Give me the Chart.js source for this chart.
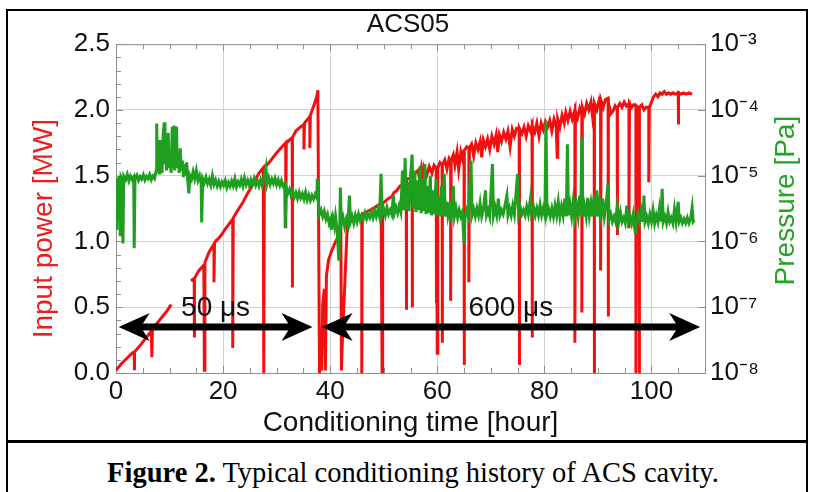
<!DOCTYPE html>
<html>
<head>
<meta charset="utf-8">
<script src="https://cdn.jsdelivr.net/npm/chart.js@4.4.1/dist/chart.umd.min.js"></script>
<style>
html,body{margin:0;padding:0;background:#fff;width:816px;height:492px;overflow:hidden;}
#frame{position:absolute;left:6px;top:9px;width:802px;height:520px;border:2px solid #000;box-sizing:border-box;}
#sep{position:absolute;left:6px;top:440px;width:802px;height:3px;background:#000;}
#wrap{position:absolute;left:0;top:0;width:816px;height:441px;}
#caption{position:absolute;left:5px;width:816px;top:457px;text-align:center;font-family:"Liberation Serif","Times New Roman",serif;font-size:28.5px;line-height:32px;color:#000;white-space:nowrap;}
</style>
</head>
<body>
<div id="frame"></div>
<div id="sep"></div>
<div id="wrap"><canvas id="c" width="816" height="441"></canvas></div>
<div id="caption"><b>Figure 2.</b> Typical conditioning history of ACS cavity.</div>
<script>
// ---------- data ----------
const chartTitle = 'ACS05';
const xTitle = 'Conditioning time [hour]';
const yTitle = 'Input power [MW]';
const y1Title = 'Pressure [Pa]';
const hourTicks = [0, 20, 40, 60, 80, 100];
const powerTicks = [0, 0.5, 1.0, 1.5, 2.0, 2.5];
const pressureTicks = [1e-8, 1e-7, 1e-6, 1e-5, 1e-4, 1e-3];
const pressureTickLabels = ['10\u207B\u2078', '10\u207B\u2077', '10\u207B\u2076', '10\u207B\u2075', '10\u207B\u2074', '10\u207B\u00B3'];

// input power [hour, MW]
const powerData = [
[0,0.02],[1,0.07],[2,0.11],[3,0.15],[3.4,0.16],[3.4,0.02],[3.5,0.16],[4.5,0.21],[5.5,0.26],[6.6,0.32],[6.7,0.12],[6.8,0.33],[7.5,0.37],[8.5,0.42],[9.5,0.47],[10.3,0.52],[12,null],
[14,0.70],[14.6,0.72],[14.6,0.27],[14.7,0.72],[15.5,0.78],[16.4,0.82],[16.5,0.02],[16.6,0.84],[17.4,0.92],[18.3,0.98],[18.3,0.69],[18.4,0.99],[19.5,1.04],[20.5,1.1],[21.8,1.17],[21.8,0.19],[21.9,1.18],[22.8,1.24],[23.6,1.29],[24.5,1.36],[25.5,1.43],[26.7,1.52],[27.5,1.56],[27.6,0.0],[27.7,1.56],[28.8,1.61],[29.9,1.67],[30.8,1.71],[31.7,1.75],[31.7,1.1],[31.8,1.75],[32.9,1.79],[32.9,0.65],[33,1.79],[33.6,1.84],[34.4,1.87],[35.1,1.89],[35.1,1.7],[35.2,1.9],[36,1.94],[36.2,1.95],[36.2,1.71],[36.3,1.96],[37,2.04],[37.5,2.1],[37.7,2.15],
[38,0.0],[38.2,0.3],[38.4,0.02],[38.6,0.52],[38.9,0.64],[39.1,0.02],[39.3,0.74],[39.7,0.86],[40.2,0.92],[40.8,0.98],[41.4,1.03],[42,1.07],[42.1,0.02],[42.3,0.27],[43.2,1.13],[44.4,1.18],[45.9,1.2],[45.9,0.0],[46,1.21],[47,1.23],[48,1.25],[49.5,1.29],[49.7,0.0],
[49.8,1.29],[50.4,1.31],[51,1.33],[51.5,1.34],[51.9,1.37],[52.5,1.39],[53,1.42],[53.5,1.43],[54,1.45],[54.2,1.46],[54.2,0.48],[54.3,1.47],[54.8,1.48],[55.3,1.5],[55.3,0.5],[55.4,1.5],[55.9,1.52],[56.4,1.54],[56.7,1.47],[57,1.55],[57.3,1.45],[57.5,1.56],[58,1.5],[58.5,1.57],[59,1.52],[59.4,1.58],[59.8,1.56],[59.8,0.53],[59.9,1.55],[60,0.15],[60.1,1.56],[60.5,1.6],[60.9,1.58],[60.9,0.23],[61,1.58],[61.4,1.62],[61.8,1.55],[62.2,1.63],[62.5,1.61],[62.5,0.55],[62.6,1.62],[63,1.66],[63.3,1.58],[63.7,1.68],[64,1.55],[64.4,1.68],[64.7,1.63],[65,1.7],[65,0.06],[65.1,1.69],[65.5,1.72],[65.9,1.71],[65.9,0.69],[66,1.71],[66.4,1.74],[66.8,1.65],[67.2,1.75],[67.6,1.7],[68,1.76],[68.3,1.64],[68.6,1.77],[69,1.72],[69.4,1.78],[69.8,1.7],[70.2,1.8],[70.6,1.74],[71,1.81],[71.3,1.68],[71.6,1.81],[72,1.76],[72.4,1.83],[72.8,1.78],[73.2,1.84],[73.6,1.72],[74,1.85],[74.4,1.8],[74.8,1.86],[75.3,1.86],[75.3,0.06],[75.4,1.86],[75.8,1.82],[76.2,1.87],[76.6,1.8],[77,1.88],[77.4,1.84],[77.7,1.88],[77.7,0.27],[77.8,1.88],[78.2,1.83],[78.6,1.9],[79,1.8],[79.4,1.9],[79.8,1.85],[80.2,1.91],[80.6,1.87],[81,1.92],[81.4,1.84],[81.8,1.93],[82.2,1.88],[82.4,1.64],[82.5,1.93],[82.9,1.87],[83.3,1.96],[83.7,1.9],[84,1.98],[84.4,1.92],[84.8,1.99],[85.2,1.93],[85.7,2.0],[85.7,0.23],[85.8,1.99],[86.2,1.94],[86.6,2.01],[87,1.96],[87,0.46],[87.1,2.02],[87.5,1.97],[87.9,2.05],[88.3,2.0],[88.7,2.06],[89,1.95],[89.3,2.05],[89.3,0.0],[89.4,2.05],[89.8,2.0],[90.2,2.07],[90.5,2.02],[90.5,0.78],[90.6,2.07],[91,2.02],[91.4,2.08],[91.9,2.09],[91.9,0.43],[92,2.06],[92.4,1.97],[92.8,1.99],[93.2,2.03],[93.6,2.0],[93.6,1.05],[93.7,2.02],[94.1,2.05],[94.5,2.02],[94.9,2.06],[95.3,2.03],[95.8,2.05],[95.8,1.1],[95.9,2.05],[96.3,2.02],[96.7,2.04],[97.1,2.03],[97.1,0.0],[97.2,2.03],[97.7,2.01],[97.7,0.0],[97.8,2.02],[98.2,2.04],[98.6,2.0],[99,2.02],[99.5,2.02],[99.5,1.45],[99.6,2.02],[100,2.06],[100.4,2.1],[100.8,2.12],[101.2,2.1],[101.6,2.13],[102,2.12],[102.4,2.14],[102.8,2.12],[103.2,2.13],[103.6,2.12],[104,2.13],[104.4,2.12],[105,2.13],[105,1.89],[105.1,2.13],[105.5,2.12],[106,2.13],[106.5,2.12],[107,2.13],[107.6,2.12]
];

// pressure [hour, Pa]
const pressureData = [
[0,9.2e-6],[0.15,1.5e-6],[0.3,9e-6],[0.45,2.2e-6],[0.6,1e-5],[0.8,1.2e-6],[0.95,9.4e-6],[1.15,8.6e-6],[1.3,9.3e-7],[1.45,9.8e-6],[1.8,8.7e-6],[2.1,1.05e-5],[2.4,8.4e-6],[2.7,9.9e-6],[3,8.8e-6],[3.3,9.6e-6],[3.4,7.9e-7],[3.55,9.2e-6],[3.9,1.02e-5],[4.2,8.5e-6],[4.5,9.7e-6],[4.8,8.9e-6],[5.1,1.03e-5],[5.4,8.6e-6],[5.7,9.8e-6],[6,9e-6],[6.3,1.04e-5],[6.6,8.7e-6],[6.9,9.9e-6],[7.2,9.1e-6],
[7.5,1.2e-5],[7.6,6.2e-5],[7.7,1.3e-5],[7.9,2.5e-5],[8.05,1.1e-5],[8.2,3.5e-5],[8.35,1.2e-5],[8.5,2.2e-5],[8.6,1.1e-5],[8.8,4e-5],[9,6.5e-5],[9.15,1.5e-5],[9.3,3e-5],[9.45,1.2e-5],[9.6,2.6e-5],[9.75,4.5e-5],[9.9,1.3e-5],[10.1,2e-5],[10.3,1.1e-5],[10.5,5.5e-5],[10.65,1.4e-5],[10.8,5.8e-5],[10.95,1.2e-5],[11.1,3e-5],[11.3,5.6e-5],[11.45,1.3e-5],[11.6,2.2e-5],[11.8,1.1e-5],[12,2.6e-5],[12.2,1.2e-5],[12.4,1.7e-5],[12.6,9.5e-6],[12.8,1.5e-5],[13,1e-5],[13.2,1.6e-5],[13.4,8.5e-6],[13.6,5.4e-6],[13.8,1e-5],[14.1,8.8e-6],[14.4,1.15e-5],[14.7,9e-6],[15,1.2e-5],[15.3,8.5e-6],[15.6,1e-5],[15.9,7.5e-6],[16,1.95e-6],[16.2,9e-6],[16.5,7.8e-6],[16.8,9.5e-6],[17.1,7.6e-6],[17.4,8.8e-6],[17.7,7.2e-6],[18,1e-5],[18.3,7.4e-6],[18.6,8.6e-6],[18.9,7e-6],[19.2,8.2e-6],[19.5,6.8e-6],[19.8,8e-6],[20.1,7.1e-6],[20.4,8.4e-6],[20.7,6.6e-6],[21,7.9e-6],[21.3,6.9e-6],[21.6,8.3e-6],[21.9,7e-6],[22.2,9e-6],[22.5,6.8e-6],[22.8,8.1e-6],[23.1,7.2e-6],[23.4,8.8e-6],[23.7,7e-6],[24,9.2e-6],[24.3,7.3e-6],[24.6,8.5e-6],[24.9,7.1e-6],[25.2,8.7e-6],[25.5,7.4e-6],[25.8,9e-6],[26.1,7.2e-6],[26.4,8.4e-6],[26.7,7e-6],[27,8.6e-6],[27.3,7.1e-6],[27.6,8.8e-6],[28,1.32e-5],[28.2,7.5e-6],[28.5,9.3e-6],[28.8,7.4e-6],[29.1,8.9e-6],[29.4,7.6e-6],[29.7,9.1e-6],[30,7.3e-6],[30.3,8.6e-6],[30.6,7.1e-6],[30.9,8.4e-6],[31.2,7e-6],[31.5,7.5e-6],[31.6,1.6e-6],[31.8,6.6e-6],[32.1,5.4e-6],[32.4,6.2e-6],[32.7,5e-6],[33,5.8e-6],[33.3,4.7e-6],[33.6,5.5e-6],[33.9,4.5e-6],[34.2,5.6e-6],[34.5,4.6e-6],[34.8,5.3e-6],[35.1,4.4e-6],[35.4,5.6e-6],[35.7,4.3e-6],[36,5.1e-6],[36.3,4.2e-6],[36.6,5e-6],[36.9,4.4e-6],[37.2,5.2e-6],[37.5,4.6e-6],[37.6,9e-6],[37.8,4e-6],
[38,2.6e-6],[38.3,3e-6],[38.6,2.4e-6],[38.9,2.9e-6],[39.2,2.2e-6],[39.5,2.6e-6],[39.8,1.9e-6],[40.1,2.2e-6],[40.2,1.5e-6],[40.5,2.3e-6],[40.8,1.7e-6],[41,2.4e-6],[41.3,1.5e-6],[41.6,5.1e-7],[41.8,1.8e-6],[41.9,6.6e-6],[42.1,1.8e-6],[42.4,2.3e-6],[42.7,1.7e-6],[43,2.2e-6],[43.3,1.8e-6],[43.6,5e-6],[43.8,2e-6],[44.1,2.4e-6],[44.4,1.9e-6],[44.7,2.5e-6],[45,2e-6],[45.3,2.6e-6],[45.6,2.1e-6],[45.9,2.5e-6],[46.2,2.2e-6],[46.5,2.7e-6],[46.8,2.2e-6],[47.1,2.6e-6],[47.4,2.3e-6],[47.7,2.8e-6],[48,2.3e-6],[48.3,2.9e-6],[48.6,2.4e-6],[48.9,3e-6],[49.2,2.4e-6],[49.5,1.07e-5],[49.7,2.6e-6],[50,3.1e-6],[50.3,2.5e-6],[50.6,3.3e-6],[50.9,2.6e-6],[51.2,3e-6],[51.5,2.6e-6],[51.8,5e-6],[52,2.7e-6],[52.3,3.3e-6],[52.6,2.7e-6],[52.9,3.5e-6],[53.2,2.8e-6],[53.5,1.2e-5],[53.7,3e-6],[54,1.86e-5],[54.2,3e-6],[54.5,8e-6],[54.7,2.9e-6],[55,1e-5],[55.3,2.1e-5],[55.5,3.2e-6],[55.8,1.2e-5],[56,2.8e-6],[56.3,8.5e-6],[56.5,3e-6],[56.8,1.4e-5],[57,2.7e-6],[57.3,9e-6],[57.5,2.9e-6],[57.7,1.5e-5],[57.9,2.6e-6],[58.2,7e-6],[58.4,2.7e-6],[58.7,1e-5],[58.9,2.5e-6],[59.2,6e-6],[59.4,2.6e-6],[59.8,9e-6],[60,2.5e-6],[60.3,5e-6],[60.5,2.4e-6],[60.8,7e-6],[61,2.5e-6],[61.3,1.07e-5],[61.5,2.4e-6],[61.8,4e-6],[62,2.5e-6],[62.3,3.4e-6],[62.6,2.4e-6],[63,7e-6],[63.2,2.4e-6],[63.5,3.2e-6],[63.8,2.3e-6],[64.1,3e-6],[64.4,2.4e-6],[64.7,2.8e-6],[65,9.3e-7],[65.2,2.4e-6],[65.5,3e-6],[65.8,2.4e-6],[66.3,1.7e-5],[66.5,2.5e-6],[66.8,3.1e-6],[67.1,2.4e-6],[67.4,3.2e-6],[67.7,2.5e-6],[68,3.8e-6],[68.3,2.4e-6],[68.6,3e-6],[69,6e-6],[69.2,2.5e-6],[69.5,3e-6],[69.8,2.4e-6],[70.3,1.5e-5],[70.5,2.5e-6],[70.8,3.3e-6],[71.1,2.5e-6],[71.4,4.5e-6],[71.7,2.5e-6],[72,3e-6],[72.3,2.6e-6],[72.6,3.4e-6],[73,5e-6],[73.2,2.5e-6],[73.5,3.2e-6],[73.8,2.5e-6],[74.1,3.5e-6],[74.4,2.6e-6],[75,1.07e-5],[75.2,2.6e-6],[75.5,3.3e-6],[75.8,2.6e-6],[76.1,3e-6],[76.4,2.5e-6],[76.7,3.4e-6],[77,2.6e-6],[77.4,4.5e-6],[77.6,2.6e-6],[78,3.3e-6],[78.3,2.5e-6],[78.6,3.2e-6],[78.9,2.5e-6],[79.2,3.6e-6],[79.5,2.5e-6],[79.8,3.2e-6],[80.1,2.5e-6],[80.3,6.8e-5],[80.5,2.6e-6],[80.8,3.1e-6],[81.1,2.4e-6],[81.4,3.2e-6],[81.7,2.4e-6],[82,3.5e-6],[82.3,2.5e-6],[82.6,4e-6],[82.9,2.4e-6],[83.2,3.4e-6],[83.5,2.5e-6],[83.8,4.5e-6],[84.1,2.4e-6],[84.3,3e-5],[84.5,2.5e-6],[84.8,3.6e-6],[85.1,2.4e-6],[85.4,4.2e-6],[85.7,2.4e-6],[86,3.6e-6],[86.3,2.4e-6],[86.6,5e-6],[86.8,2.5e-6],[87,3.8e-5],[87.2,2.4e-6],[87.5,3.4e-6],[87.8,2.4e-6],[88.1,4.6e-6],[88.4,2.5e-6],[88.7,3.8e-6],[89,2.4e-6],[89.3,5e-6],[89.5,2.4e-6],[89.8,6e-6],[90,2.4e-6],[90.3,4e-6],[90.6,2.5e-6],[90.9,4.5e-6],[91.2,2.4e-6],[91.5,3.5e-6],[91.9,7.6e-6],[92.1,2.2e-6],[92.4,2.6e-6],[92.7,2e-6],[93,2.4e-6],[93.3,2e-6],[93.6,3.4e-6],[93.9,2e-6],[94.2,2.8e-6],[94.5,2e-6],[94.8,2.3e-6],[95.1,1.9e-6],[95.4,3.5e-6],[95.7,2e-6],[96,2.4e-6],[96.3,1.9e-6],[96.6,2.6e-6],[97,1.3e-6],[97.2,2e-6],[97.5,2.6e-6],[97.8,2e-6],[98.1,2.9e-6],[98.4,2e-6],[98.6,5e-6],[98.8,2e-6],[99.1,2.4e-6],[99.4,1.9e-6],[99.7,2.6e-6],[100,2e-6],[100.3,3e-6],[100.6,1.9e-6],[100.9,2.5e-6],[101.2,2e-6],[101.5,3.2e-6],[101.8,2e-6],[102,6.3e-6],[102.2,2e-6],[102.5,2.4e-6],[102.8,1.9e-6],[103.1,2.8e-6],[103.4,2e-6],[103.7,2.3e-6],[104,1.9e-6],[104.3,3.1e-6],[104.6,2e-6],[105,4e-6],[105.2,2e-6],[105.5,2.3e-6],[105.8,1.9e-6],[106.1,2.2e-6],[106.4,1.9e-6],[106.7,2.3e-6],[107,1.9e-6],[107.3,2.2e-6],[107.6,3.3e-6],[107.8,2e-6],[108,2.1e-6]
];

// pulse-width annotations: [start hour, end hour, MW level, label]
const pulseArrows = [
  [0.5, 36.7, 0.35, '50 \u03BCs'],
  [38.4, 109.1, 0.35, '600 \u03BCs']
];
const labelLevel = 0.49;

// ---------- chart ----------
const FONT = '"Liberation Sans", Arial, Helvetica, sans-serif';
const AXIS_GRAY = '#8f8f8f';
const GRID_GRAY = '#d2d2d2';
const RED = '#f01010';
const GREEN = '#1f9f1f';

const marksPlugin = {
  id: 'marks',
  beforeDatasetsDraw(chart) {
    const {ctx, chartArea: a} = chart;
    ctx.save();
    ctx.strokeStyle = AXIS_GRAY;
    ctx.lineWidth = 1;
    ctx.beginPath();
    ctx.moveTo(a.left, a.top + 0.5); ctx.lineTo(a.right, a.top + 0.5);
    ctx.stroke();
    const xs = chart.scales.x, ys = chart.scales.y, y1 = chart.scales.y1;
    ctx.beginPath();
    for (let h = 0; h <= 110; h += 5) {
      const px = Math.round(xs.getPixelForValue(h)) + 0.5;
      const len = (h % 20 === 0) ? 7 : 5;
      ctx.moveTo(px, a.bottom); ctx.lineTo(px, a.bottom - len);
      ctx.moveTo(px, a.top); ctx.lineTo(px, a.top + len);
    }
    for (let i = 0; i <= 25; i++) {
      const py = Math.round(ys.getPixelForValue(i / 10)) + 0.5;
      const len = (i % 5 === 0) ? 7 : 5;
      ctx.moveTo(a.left, py); ctx.lineTo(a.left + len, py);
    }
    pressureTicks.forEach(v => {
      const py = Math.round(y1.getPixelForValue(v)) + 0.5;
      ctx.moveTo(a.right, py); ctx.lineTo(a.right - 7, py);
    });
    ctx.stroke();
    ctx.restore();
  },
  afterDatasetsDraw(chart) {
    const {ctx, chartArea: a} = chart;
    const xs = chart.scales.x, ys = chart.scales.y;
    ctx.save();
    pulseArrows.forEach(([h1, h2, mw, label]) => {
      const x1 = xs.getPixelForValue(h1), x2 = xs.getPixelForValue(h2);
      const y = ys.getPixelForValue(mw);
      const L = 31, W = 14, N = 22, T = 7;
      ctx.fillStyle = '#000';
      ctx.fillRect(x1 + N - 1, y - T / 2, (x2 - x1) - 2 * N + 2, T);
      ctx.beginPath();
      ctx.moveTo(x1, y); ctx.lineTo(x1 + L, y - W); ctx.lineTo(x1 + N, y); ctx.lineTo(x1 + L, y + W);
      ctx.closePath(); ctx.fill();
      ctx.beginPath();
      ctx.moveTo(x2, y); ctx.lineTo(x2 - L, y - W); ctx.lineTo(x2 - N, y); ctx.lineTo(x2 - L, y + W);
      ctx.closePath(); ctx.fill();
      ctx.font = '28px ' + FONT;
      ctx.textAlign = 'center';
      ctx.textBaseline = 'middle';
      ctx.fillStyle = '#111';
      ctx.fillText(label, (x1 + x2) / 2, ys.getPixelForValue(labelLevel));
    });
    // vertical axis titles, both reading bottom-to-top
    ctx.font = '28px ' + FONT;
    ctx.textAlign = 'center';
    ctx.textBaseline = 'middle';
    ctx.save();
    ctx.translate(a.left - 72, (a.top + a.bottom) / 2 + 20);
    ctx.rotate(-Math.PI / 2);
    ctx.fillStyle = '#e82020';
    ctx.fillText(yTitle, 0, 0);
    ctx.restore();
    ctx.save();
    ctx.translate(a.right + 81, (a.top + a.bottom) / 2 - 8);
    ctx.rotate(-Math.PI / 2);
    ctx.fillStyle = '#26a326';
    ctx.fillText(y1Title, 0, 0);
    ctx.restore();
    ctx.restore();
  }
};

new Chart(document.getElementById('c'), {
  type: 'line',
  data: {
    datasets: [
      {
        label: 'Pressure',
        data: pressureData.map(([x, y]) => ({x, y})),
        yAxisID: 'y1',
        borderColor: GREEN,
        borderWidth: 3,
        pointRadius: 0,
        tension: 0,
        spanGaps: false
      },
      {
        label: 'Input power',
        data: powerData.map(([x, y]) => ({x, y})),
        yAxisID: 'y',
        borderColor: RED,
        borderWidth: 3,
        pointRadius: 0,
        tension: 0,
        spanGaps: false
      }
    ]
  },
  options: {
    responsive: false,
    animation: false,
    devicePixelRatio: 1,
    layout: {padding: 0},
    plugins: {
      legend: {display: false},
      tooltip: {enabled: false},
      title: {
        display: true, text: chartTitle, color: '#111',
        font: {family: FONT, size: 26, weight: 'normal'},
        padding: {top: 9, bottom: 4}
      }
    },
    scales: {
      x: {
        type: 'linear', position: 'bottom', min: 0, max: 110,
        afterBuildTicks: s => { s.ticks = hourTicks.map(v => ({value: v})); },
        afterFit: s => { s.height = 68; },
        ticks: {color: '#111', font: {family: FONT, size: 26}, padding: 3, maxRotation: 0, autoSkip: false},
        grid: {color: GRID_GRAY, lineWidth: 1, drawTicks: false},
        border: {display: true, color: AXIS_GRAY, width: 1},
        title: {display: true, text: xTitle, color: '#111', font: {family: FONT, size: 28}, padding: {top: 0, bottom: 1}}
      },
      y: {
        type: 'linear', position: 'left', min: 0, max: 2.5,
        afterBuildTicks: s => { s.ticks = powerTicks.map(v => ({value: v})); },
        afterFit: s => { s.width = 116; },
        ticks: {color: '#111', font: {family: FONT, size: 26}, padding: 6, callback: v => Number(v).toFixed(1)},
        grid: {color: GRID_GRAY, lineWidth: 1, drawTicks: false},
        border: {display: true, color: AXIS_GRAY, width: 1},
        title: {display: false}
      },
      y1: {
        type: 'logarithmic', position: 'right', min: 1e-8, max: 1e-3,
        afterBuildTicks: s => { s.ticks = pressureTicks.map(v => ({value: v})); },
        afterFit: s => { s.width = 111; },
        ticks: {color: '#111', font: {family: FONT, size: 26}, padding: 5, callback: (v, i) => pressureTickLabels[i]},
        grid: {drawOnChartArea: false, drawTicks: false},
        border: {display: true, color: AXIS_GRAY, width: 1},
        title: {display: false}
      }
    }
  },
  plugins: [marksPlugin]
});
</script>
</body>
</html>
